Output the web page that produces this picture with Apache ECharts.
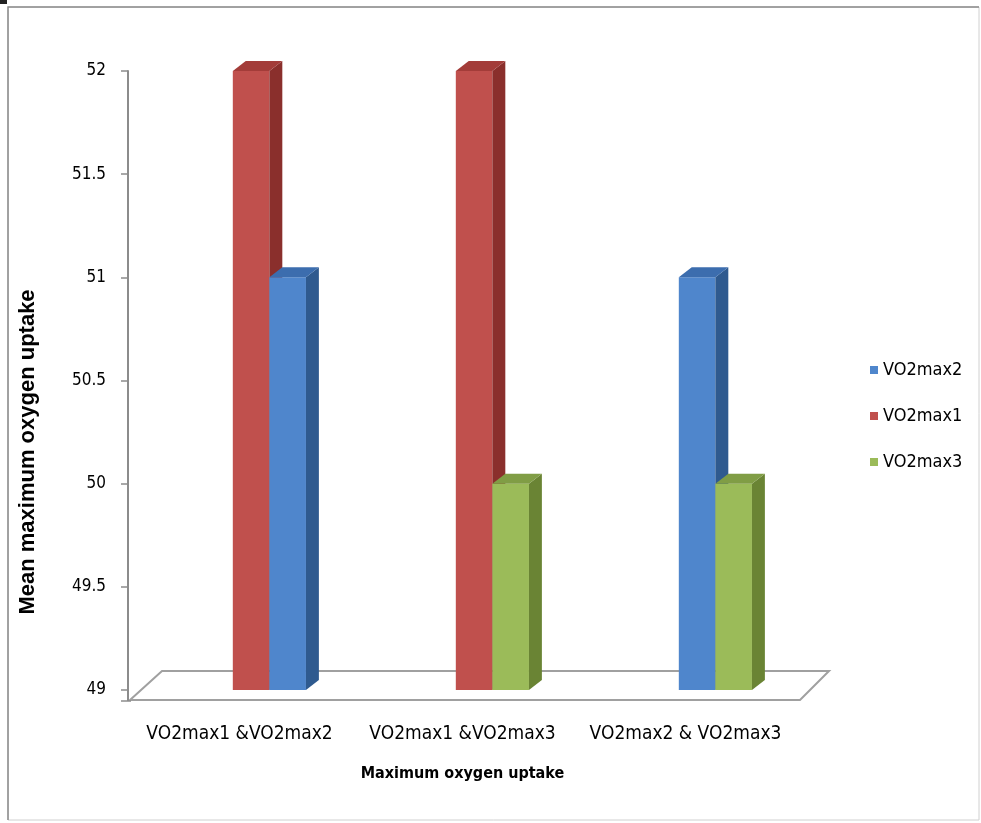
<!DOCTYPE html>
<html>
<head>
<meta charset="utf-8">
<style>
  html, body { margin: 0; padding: 0; background: #fff; }
  #chart { width: 981px; height: 823px; }
</style>
<script src="https://cdn.jsdelivr.net/npm/echarts@6/dist/echarts.min.js"></script>
</head>
<body>
<div id="chart"></div>
<script>
// Pairwise comparison of mean maximum oxygen uptake
const categories = ['VO2max1 &VO2max2', 'VO2max1 &VO2max3', 'VO2max2 & VO2max3'];
const vo2max1 = [52, 52, null];
const vo2max2 = [51, null, 51];
const vo2max3 = [null, 50, 50];
const yMin = 49;
const yMax = 52;
const yStep = 0.5;

const seriesDefs = [
  { name: 'VO2max1', values: vo2max1, front: '#C0504D', side: '#8A2F2C', top: '#A33C39' },
  { name: 'VO2max2', values: vo2max2, front: '#4F86CC', side: '#2F5A8F', top: '#3C6DAE' },
  { name: 'VO2max3', values: vo2max3, front: '#9BBB59', side: '#6A8434', top: '#809D45' }
];

// position of each bar inside its pair (bars present in a category sit side by side)
function slotOf(seriesIdx, catIdx) {
  let s = 0;
  for (let i = 0; i < seriesIdx; i++) {
    if (seriesDefs[i].values[catIdx] != null) s++;
  }
  return s;
}

function makeRenderer(def) {
  return function (params, api) {
    const ci = api.value(0);
    const v = api.value(1);
    const slot = api.value(2);
    const base = api.coord([ci, yMin]);
    const top = api.coord([ci, v]);
    const band = api.size([1, 0])[0];
    const w = band * 0.164;
    const dx = band * 0.058;
    const dy = -10;
    const x0 = base[0] - band * 0.03 + slot * w;
    const yt = top[1], yb = base[1];
    return {
      type: 'group',
      children: [
        {
          type: 'rect', z2: slot * 10 + 1,
          shape: { x: x0, y: yt, width: w, height: yb - yt },
          style: { fill: def.front }
        },
        {
          type: 'polygon', z2: slot * 10 + 2,
          shape: { points: [[x0 + w, yt], [x0 + w + dx, yt + dy], [x0 + w + dx, yb + dy], [x0 + w, yb]] },
          style: { fill: def.side }
        },
        {
          type: 'polygon', z2: slot * 10 + 3,
          shape: { points: [[x0, yt], [x0 + dx, yt + dy], [x0 + w + dx, yt + dy], [x0 + w, yt]] },
          style: { fill: def.top }
        }
      ]
    };
  };
}

const series = seriesDefs.map(function (def, si) {
  const data = [];
  def.values.forEach(function (v, ci) {
    if (v != null) data.push([ci, v, slotOf(si, ci)]);
  });
  return {
    name: def.name,
    type: 'custom',
    itemStyle: { color: def.front },
    renderItem: makeRenderer(def),
    encode: { x: 0, y: 1 },
    data: data
  };
});

const narrow = '"Liberation Sans Narrow", "DejaVu Sans Condensed", "Liberation Sans", sans-serif';

const chart = echarts.init(document.getElementById('chart'));
chart.setOption({
  backgroundColor: '#ffffff',
  animation: false,
  grid: { left: 128, right: 184, top: 71, bottom: 133 },
  legend: {
    data: ['VO2max2', 'VO2max1', 'VO2max3'],
    orient: 'vertical',
    left: 865,
    top: 356,
    icon: 'rect',
    itemWidth: 8,
    itemHeight: 8,
    itemGap: 28,
    textStyle: { fontFamily: narrow, fontSize: 18, color: '#000', lineHeight: 18 }
  },
  xAxis: {
    type: 'category',
    data: categories,
    axisLine: { show: false },
    axisTick: { show: false },
    axisLabel: { interval: 0, fontFamily: narrow, fontSize: 19, color: '#000', margin: 35 },
    name: 'Maximum oxygen uptake',
    nameLocation: 'middle',
    nameGap: 76,
    nameTextStyle: { fontFamily: narrow, fontSize: 16, fontWeight: 'bold', color: '#000' }
  },
  yAxis: {
    type: 'value',
    min: yMin,
    max: yMax,
    interval: yStep,
    axisLine: { show: true, lineStyle: { color: '#8c8c8c', width: 2 } },
    axisTick: { show: true, length: 7, lineStyle: { color: '#8c8c8c', width: 1.5 } },
    splitLine: { show: false },
    axisLabel: { fontFamily: narrow, fontSize: 17, color: '#000', margin: 22 }
  },
  graphic: [
    // chart frame
    { type: 'rect', z: -10, shape: { x: 8, y: 7, width: 971, height: 813 },
      style: { fill: 'none', stroke: '#d0d0d0', lineWidth: 1 } },
    { type: 'polyline', z: -9, shape: { points: [[8, 820], [8, 7], [979, 7]] },
      style: { fill: 'none', stroke: '#8a8a8a', lineWidth: 1.5 } },
    { type: 'rect', z: -9, shape: { x: 0, y: 0, width: 7, height: 4 }, style: { fill: '#222' } },
    // floor of the plot
    { type: 'polygon', z: 0, shape: { points: [[130, 700], [162, 671], [829, 671], [800, 700]] },
      style: { fill: '#ffffff', stroke: '#a0a0a0', lineWidth: 2 } },
    { type: 'line', z: 0, shape: { x1: 128, y1: 690, x2: 128, y2: 701 },
      style: { stroke: '#8c8c8c', lineWidth: 2 } },
    { type: 'line', z: 0, shape: { x1: 121, y1: 701, x2: 131, y2: 701 },
      style: { stroke: '#8c8c8c', lineWidth: 1.5 } },
    // vertical axis title
    { type: 'text', z: 5, x: 28, y: 452, rotation: Math.PI / 2,
      style: { text: 'Mean maximum oxygen uptake', fontFamily: '"Liberation Sans", Arial, sans-serif',
               fontSize: 22, fontWeight: 'bold', fill: '#000', align: 'center', verticalAlign: 'middle' } }
  ],
  series: series
});
</script>
</body>
</html>
